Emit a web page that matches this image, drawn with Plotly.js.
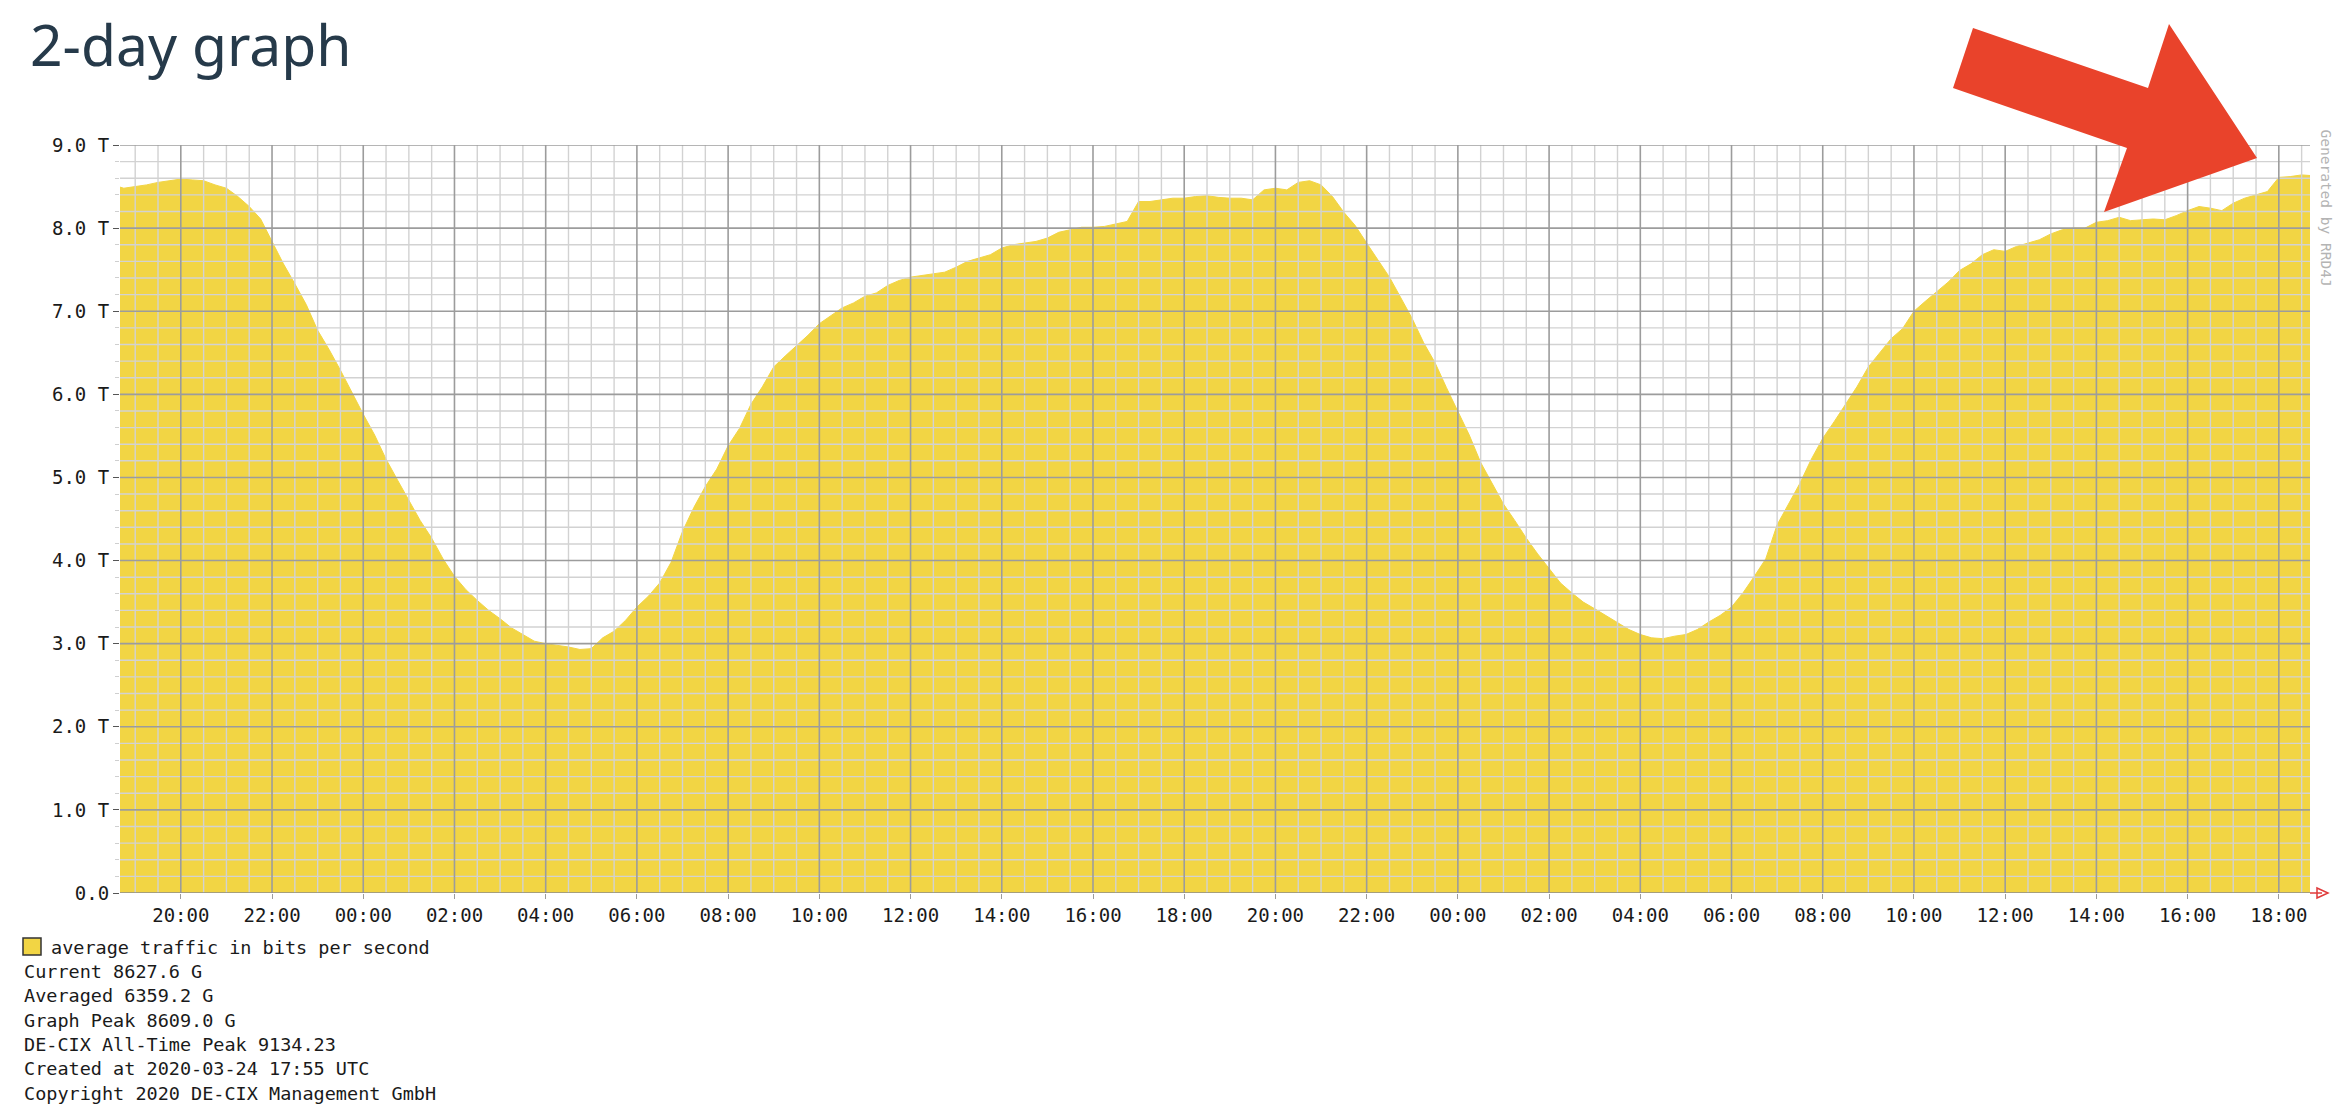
<!DOCTYPE html>
<html>
<head>
<meta charset="utf-8">
<script src="https://cdn.plot.ly/plotly-3.0.1.min.js"></script>
<style>
  html, body { margin: 0; padding: 0; background: #ffffff; }
  #chart { width: 2352px; height: 1112px; }
</style>
</head>
<body>
<div id="chart"></div>
<script>
// ---------------- DATA (Tbit/s, 15-minute samples) ----------------
// Series starts 2020-03-22 18:30 (local), one value every 15 minutes.
const seriesStart = '2020-03-22T18:30:00Z';
const stepMinutes = 15;

// 2020-03-22, 18:30 .. 23:45
const trafficDay1Evening = [8.52, 8.48, 8.50, 8.52, 8.55, 8.57, 8.59, 8.58, 8.57, 8.52, 8.48, 8.38,
  8.26, 8.11, 7.84, 7.57, 7.33, 7.08, 6.77, 6.54, 6.29, 6.02];

// 2020-03-23, 00:00 .. 23:45
const trafficDay2 = [
  5.76, 5.51, 5.22, 4.97,   4.72, 4.48, 4.27, 4.02,   3.81, 3.65, 3.52, 3.40,
  3.30, 3.19, 3.11, 3.03,   3.00, 2.98, 2.96, 2.93,   2.94, 3.07, 3.15, 3.28,
  3.44, 3.57, 3.73, 3.98,   4.35, 4.64, 4.89, 5.10,   5.38, 5.59, 5.88, 6.09,
  6.33, 6.46, 6.58, 6.71,   6.85, 6.95, 7.04, 7.10,   7.18, 7.22, 7.31, 7.37,
  7.41, 7.43, 7.45, 7.47,   7.53, 7.60, 7.64, 7.68,   7.76, 7.80, 7.82, 7.84,
  7.88, 7.95, 7.98, 8.01,   8.01, 8.02, 8.05, 8.08,   8.32, 8.32, 8.34, 8.36,
  8.36, 8.38, 8.39, 8.37,   8.36, 8.36, 8.34, 8.46,   8.48, 8.46, 8.55, 8.57,
  8.52, 8.38, 8.19, 8.03,   7.82, 7.62, 7.41, 7.16,   6.91, 6.62, 6.38, 6.08];

// 2020-03-24, 00:00 .. 18:45
const trafficDay3 = [
  5.80, 5.51, 5.18, 4.93,   4.68, 4.48, 4.27, 4.08,   3.90, 3.73, 3.61, 3.50,
  3.42, 3.34, 3.26, 3.17,   3.11, 3.07, 3.06, 3.09,   3.11, 3.17, 3.26, 3.34,
  3.44, 3.61, 3.81, 4.02,   4.43, 4.68, 4.93, 5.22,   5.47, 5.67, 5.88, 6.09,
  6.33, 6.50, 6.67, 6.79,   7.00, 7.12, 7.24, 7.35,   7.49, 7.57, 7.68, 7.74,
  7.72, 7.78, 7.82, 7.86,   7.93, 7.98, 8.00, 8.00,   8.07, 8.09, 8.13, 8.09,
  8.10, 8.11, 8.10, 8.15,   8.21, 8.26, 8.24, 8.21,   8.30, 8.36, 8.40, 8.44,
  8.61, 8.62, 8.64, 8.63];

const xRange = ['2020-03-22 18:40', '2020-03-24 18:41'];
const yTickVals = [0, 1, 2, 3, 4, 5, 6, 7, 8, 9];
const yTickText = ['0.0', '1.0 T', '2.0 T', '3.0 T', '4.0 T', '5.0 T', '6.0 T', '7.0 T', '8.0 T', '9.0 T'];

const chartTitle = '2-day graph';
const legendLabel = 'average traffic in bits per second';
const statLines = [
  'Current 8627.6 G',
  'Averaged 6359.2 G',
  'Graph Peak 8609.0 G',
  'DE-CIX All-Time Peak 9134.23',
  'Created at 2020-03-24 17:55 UTC',
  'Copyright 2020 DE-CIX Management GmbH'
];
const sideText = 'Generated by RRD4J';

// ---------------- BUILD ----------------
const traffic = trafficDay1Evening.concat(trafficDay2, trafficDay3);
const t0 = Date.parse(seriesStart);
function fmt(ms) { return new Date(ms).toISOString().slice(0, 16).replace('T', ' '); }
const times = traffic.map((v, i) => fmt(t0 + i * stepMinutes * 60000));

const YELLOW = '#F2D544';
const MONO = 'DejaVu Sans Mono, Liberation Mono, monospace';

// page geometry
const W = 2352, H = 1112;
const M = { l: 120, r: 42, t: 145, b: 219 };
const PW = W - M.l - M.r, PH = H - M.t - M.b;
const PLOT_BOTTOM = H - M.b;
function px(x) { return (x - M.l) / PW; }
function py(y) { return (PLOT_BOTTOM - y) / PH; }

const shapes = [];
// grid drawn above the area (as in the RRD graph)
const gStart = Date.parse('2020-03-22T19:00:00Z');
const gEnd = Date.parse(xRange[1].replace(' ', 'T') + ':00Z');
const minorV = [], majorV = [];
for (let t = gStart; t <= gEnd; t += 30 * 60000) {
  const d = new Date(t);
  if (d.getUTCMinutes() === 0 && d.getUTCHours() % 2 === 0) majorV.push(fmt(t)); else minorV.push(fmt(t));
}
const minorH = [], majorH = [];
for (let k = 1; k <= 45; k++) { if (k % 5 === 0) majorH.push(k / 5); else minorH.push(k / 5); }

minorV.forEach(x => shapes.push({ type: 'line', xref: 'x', yref: 'paper', x0: x, x1: x, y0: 0, y1: 1, layer: 'above', line: { color: '#d2d2d2', width: 1.4 } }));
minorH.forEach(y => shapes.push({ type: 'line', xref: 'paper', yref: 'y', x0: 0, x1: 1, y0: y, y1: y, layer: 'above', line: { color: '#d2d2d2', width: 1.4 } }));
majorV.forEach(x => shapes.push({ type: 'line', xref: 'x', yref: 'paper', x0: x, x1: x, y0: 0, y1: 1, layer: 'above', line: { color: '#9c9c9c', width: 1.6 } }));
majorH.forEach(y => shapes.push({ type: 'line', xref: 'paper', yref: 'y', x0: 0, x1: 1, y0: y, y1: y, layer: 'above', line: { color: '#9c9c9c', width: 1.6 } }));
shapes.push({ type: 'line', xref: 'paper', yref: 'y', x0: 0, x1: 1, y0: 0, y1: 0, layer: 'above', line: { color: '#8c8c8c', width: 1.6 } });

// small red arrow at the end of the time axis
shapes.push({ type: 'line', xref: 'paper', yref: 'paper', x0: px(2310), x1: px(2322), y0: py(893), y1: py(893), layer: 'above', line: { color: '#e03a3a', width: 1.5 } });
shapes.push({ type: 'path', xref: 'paper', yref: 'paper', layer: 'above',
  path: `M ${px(2317)} ${py(888)} L ${px(2328)} ${py(893)} L ${px(2317)} ${py(898)} Z`,
  line: { color: '#e03a3a', width: 1.5 }, fillcolor: 'rgba(0,0,0,0)' });

// big red annotation arrow
const arrowPts = [[1973, 28], [2148, 88], [2169, 24], [2257, 158], [2104, 212], [2127, 148], [1953, 88]];
shapes.push({ type: 'path', xref: 'paper', yref: 'paper', layer: 'above',
  path: arrowPts.map((p, i) => (i ? 'L ' : 'M ') + px(p[0]) + ' ' + py(p[1])).join(' ') + ' Z',
  fillcolor: '#E9432B', line: { width: 0 } });

// legend swatch
shapes.push({ type: 'rect', xref: 'paper', yref: 'paper', layer: 'above',
  x0: px(23), x1: px(41), y0: py(955), y1: py(938),
  fillcolor: YELLOW, line: { color: '#333333', width: 1.5 } });

const annotations = [];
annotations.push({ text: legendLabel, xref: 'paper', yref: 'paper', x: px(49), y: py(947), xanchor: 'left', yanchor: 'middle',
  showarrow: false, font: { family: MONO, size: 18.5, color: '#1a1a1a' } });
statLines.forEach((s, i) => annotations.push({ text: s, xref: 'paper', yref: 'paper', x: px(22), y: py(971.5 + i * 24.3),
  xanchor: 'left', yanchor: 'middle', showarrow: false, font: { family: MONO, size: 18.5, color: '#1a1a1a' } }));
annotations.push({ text: sideText, xref: 'paper', yref: 'paper', x: px(2325), y: py(127), xanchor: 'center', yanchor: 'top',
  textangle: 90, showarrow: false, font: { family: MONO, size: 14.5, color: '#b4b4b4' } });

const trace = {
  type: 'scatter', mode: 'lines', x: times, y: traffic,
  fill: 'tozeroy', fillcolor: YELLOW,
  line: { color: YELLOW, width: 1 }, showlegend: false, hoverinfo: 'x+y'
};

const layout = {
  width: W, height: H,
  margin: M,
  paper_bgcolor: '#ffffff', plot_bgcolor: '#ffffff',
  showlegend: false,
  title: {
    text: chartTitle, xref: 'container', yref: 'container',
    x: 30 / W, xanchor: 'left', y: 1 - 46 / H, yanchor: 'middle',
    font: { family: 'Noto Sans, Open Sans, sans-serif', size: 57, color: '#263a4a' }
  },
  xaxis: {
    type: 'date', range: xRange, showgrid: false, zeroline: false, showline: false,
    tick0: '2020-03-22 00:00', dtick: 2 * 3600 * 1000, tickformat: '%H:%M',
    ticks: 'outside', ticklen: 5, tickcolor: '#9c9c9c',
    tickfont: { family: MONO, size: 19, color: '#1a1a1a' }
  },
  yaxis: {
    range: [0, 9], showgrid: false, zeroline: false, showline: false,
    tickmode: 'array', tickvals: yTickVals, ticktext: yTickText,
    ticks: 'outside', ticklen: 6, tickcolor: '#555555',
    minor: { dtick: 0.2, ticks: 'outside', ticklen: 4, tickcolor: '#cfcfcf', showgrid: false },
    tickfont: { family: MONO, size: 19, color: '#1a1a1a' }
  },
  shapes: shapes,
  annotations: annotations
};

Plotly.newPlot('chart', [trace], layout, { displayModeBar: false, staticPlot: true });
</script>
</body>
</html>
